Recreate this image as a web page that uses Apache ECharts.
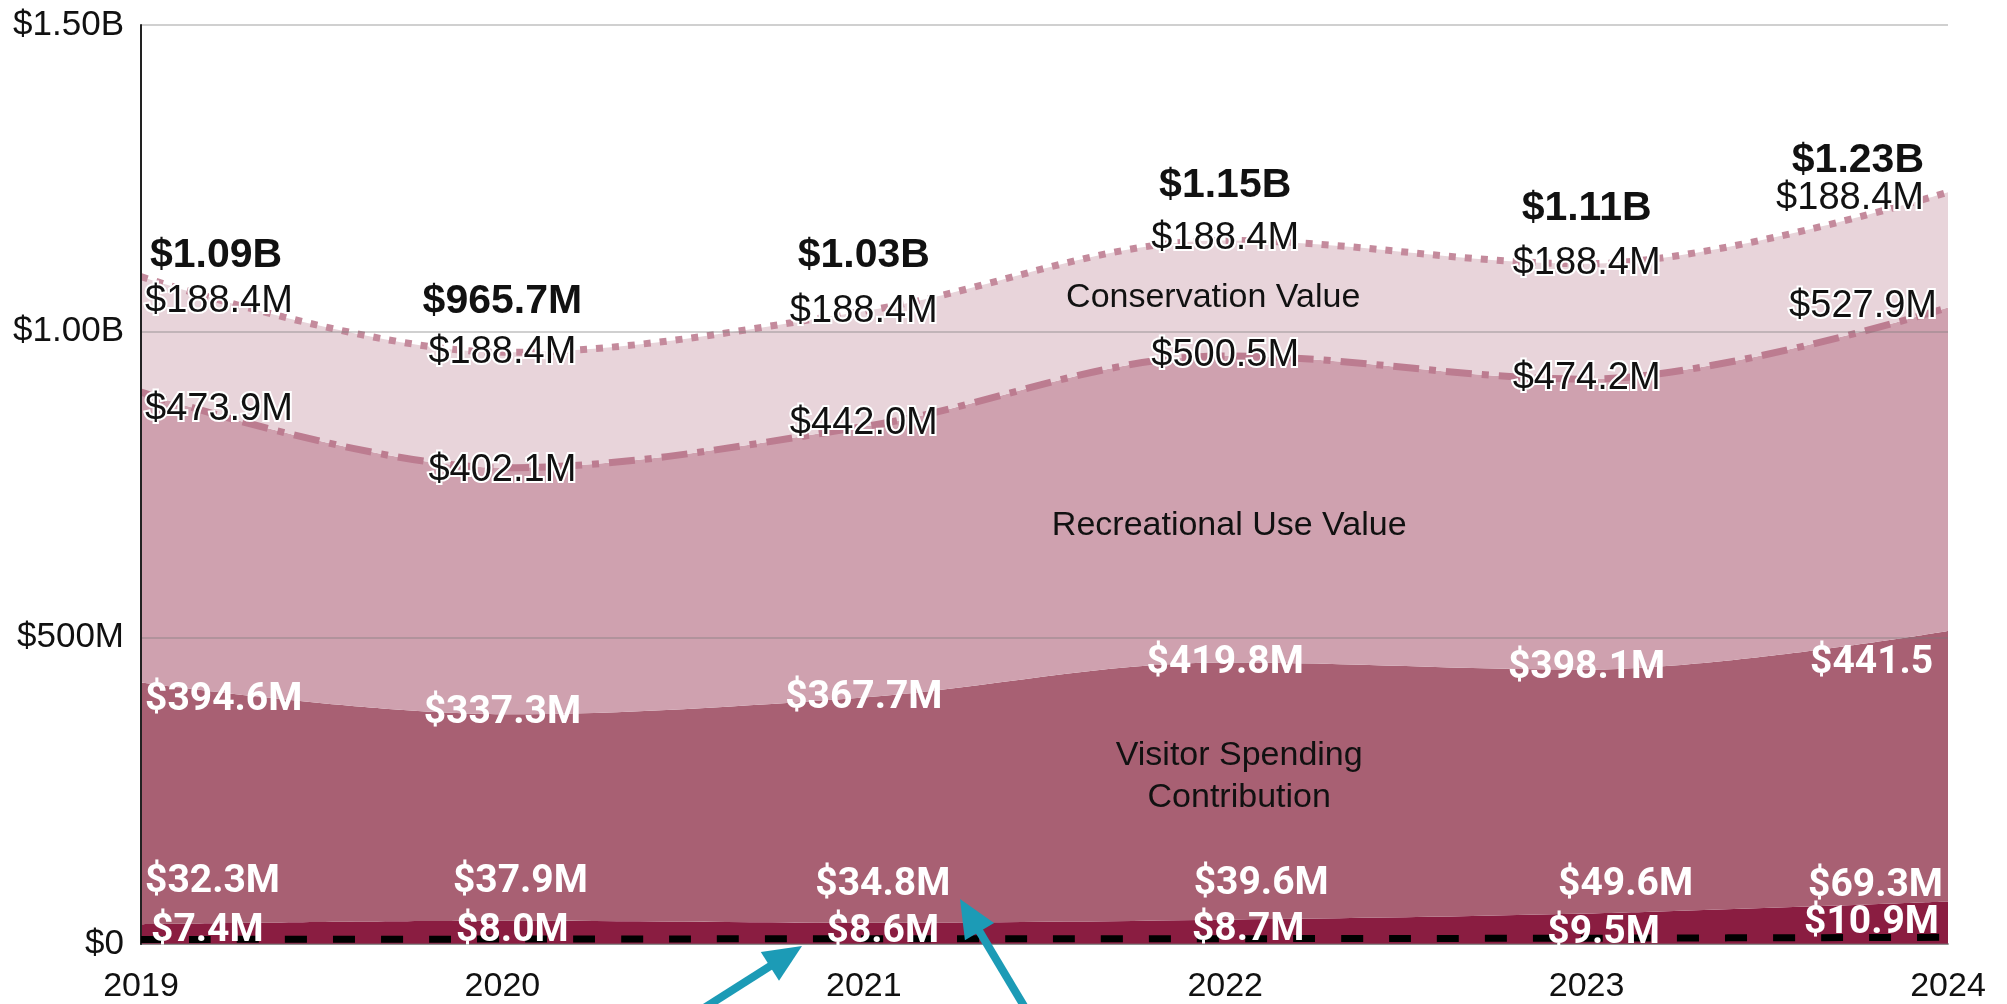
<!DOCTYPE html>
<html>
<head>
<meta charset="utf-8">
<script src="https://cdn.jsdelivr.net/npm/echarts@6/dist/echarts.min.js"></script>
<style>
html,body{margin:0;padding:0;background:#fff;}
#chart{width:2007px;height:1004px;}
</style>
</head>
<body>
<div id="chart"></div>
<script>
// ---- data (values in $M) ----
const years = ['2019', '2020', '2021', '2022', '2023', '2024'];
const dashedBase = [7.4, 8.0, 8.6, 8.7, 9.5, 10.9];
const lowerBand = [32.3, 37.9, 34.8, 39.6, 49.6, 69.3];
const visitorSpending = [394.6, 337.3, 367.7, 419.8, 398.1, 441.5];
const recreationalUse = [473.9, 402.1, 442.0, 500.5, 474.2, 527.9];
const conservationValue = [188.4, 188.4, 188.4, 188.4, 188.4, 188.4];
const yTicks = [0, 500, 1000, 1500];
const yTickLabels = ['$0', '$500M', '$1.00B', '$1.50B'];
const areaNames = ['Conservation Value', 'Recreational Use Value', 'Visitor Spending\nContribution'];

// ---- label layout (pixel offsets, separate from data) ----
const offConservation = [[4, 25], [0, 0], [0, 0], [0, -2], [0, 0], [-24, 6]];
const offTotal = [[9, -21], [0, -51], [0, -55], [0, -55], [0, -55], [-24, -32]];
const offRecreational = [[4, 17], [0, 3], [0, -3], [0, 0], [0, -1], [-11, -1]];
const offVisitor = [[4, 18], [0, -1], [0, 1], [0, 1], [0, -1], [-138, 32]];
const offLower = [[4, -42], [18, -39], [19, -37], [36, -35], [39, -28], [-5, -15]];
const offDashed = [[10, -8], [10, -8], [19, -6], [23, -8], [17, -5], [-9, -14]];

const totals = years.map((_, i) =>
  lowerBand[i] + visitorSpending[i] + recreationalUse[i] + conservationValue[i]);

function fmtM(v) { return '$' + v.toFixed(1) + 'M'; }
function fmtTotal(v) { return v >= 1000 ? '$' + (v / 1000).toFixed(2) + 'B' : '$' + v.toFixed(1) + 'M'; }

const SANS = '"Liberation Sans", Arial, Helvetica, sans-serif';
const BOLDW = 'Roboto, "Liberation Sans", Arial, sans-serif';

function items(values, offs, fmt, extra) {
  const n = values.length;
  return values.map((v, i) => {
    const align = i === 0 ? 'left' : (i === n - 1 ? 'right' : 'center');
    const lab = Object.assign({ offset: offs[i], align: align, formatter: fmt(v) }, extra ? extra(i) : {});
    return { value: v, label: lab };
  });
}

const darkLabel = {
  show: true, position: 'inside', color: '#fff', fontFamily: BOLDW,
  fontWeight: 'bold', fontSize: 39, verticalAlign: 'middle'
};
const blackLabel = {
  show: true, position: 'inside', color: '#111', fontFamily: SANS,
  fontSize: 38, verticalAlign: 'middle', textBorderColor: '#fff', textBorderWidth: 4
};

const common = {
  type: 'line', smooth: 0.35, symbol: 'circle', symbolSize: 0, showSymbol: true,
  clip: false, silent: true
};

function arrow(tail, tip, color) {
  const dx = tip[0] - tail[0], dy = tip[1] - tail[1];
  const len = Math.sqrt(dx * dx + dy * dy);
  const ux = dx / len, uy = dy / len;
  const L = 38, W = 34;
  const bx = tip[0] - ux * L, by = tip[1] - uy * L;
  const nx = -uy, ny = ux;
  return [
    { type: 'line', shape: { x1: tail[0], y1: tail[1], x2: bx + ux * 4, y2: by + uy * 4 },
      style: { stroke: color, lineWidth: 8 }, z: 100 },
    { type: 'polygon', shape: { points: [tip, [bx + nx * W / 2, by + ny * W / 2], [bx - nx * W / 2, by - ny * W / 2]] },
      style: { fill: color }, z: 100 }
  ];
}

const chart = echarts.init(document.getElementById('chart'), null, { renderer: 'canvas' });
chart.setOption({
  animation: false,
  backgroundColor: '#fff',
  grid: { left: 141, right: 59, top: 25, bottom: 59, containLabel: false },
  xAxis: {
    type: 'category', data: years, boundaryGap: false,
    axisLine: { show: true, lineStyle: { color: '#9a9a9a', width: 2 } },
    axisTick: { show: false },
    axisLabel: { color: '#111', fontSize: 34, fontFamily: SANS, margin: 26 },
    splitLine: { show: false }
  },
  yAxis: {
    type: 'value', min: 0, max: 1500, interval: 500, z: 3,
    axisLine: { show: true, lineStyle: { color: '#222', width: 2 } },
    axisTick: { show: false },
    axisLabel: {
      color: '#111', fontSize: 35, fontFamily: SANS, margin: 17,
      formatter: v => yTickLabels[yTicks.indexOf(v)]
    },
    splitLine: { show: true, lineStyle: { color: 'rgba(120,120,120,0.35)', width: 2 } }
  },
  series: [
    Object.assign({}, common, {
      name: 'Lower band', stack: 'total', z: 2,
      lineStyle: { width: 0 }, areaStyle: { color: '#8A1D41', opacity: 1 },
      itemStyle: { color: '#8A1D41' },
      label: darkLabel,
      data: items(lowerBand, offLower, fmtM)
    }),
    Object.assign({}, common, {
      name: 'Visitor Spending Contribution', stack: 'total', z: 2,
      lineStyle: { width: 0 }, areaStyle: { color: '#A86073', opacity: 1 },
      itemStyle: { color: '#A86073' },
      label: darkLabel,
      data: items(visitorSpending, offVisitor, fmtM, i => i === visitorSpending.length - 1
        ? { align: 'left', width: 138, overflow: 'truncate', ellipsis: '' } : {})
    }),
    Object.assign({}, common, {
      name: 'Recreational Use Value', stack: 'total', z: 2,
      lineStyle: { width: 7, color: '#BC7C90', type: [26, 10, 7, 10] },
      areaStyle: { color: '#CFA1AF', opacity: 1 },
      itemStyle: { color: '#BC7C90' },
      label: blackLabel,
      data: items(recreationalUse, offRecreational, fmtM)
    }),
    Object.assign({}, common, {
      name: 'Conservation Value', stack: 'total', z: 2,
      lineStyle: { width: 7, color: '#C48A9C', type: [7, 9] },
      areaStyle: { color: '#E8D4DA', opacity: 1 },
      itemStyle: { color: '#C48A9C' },
      label: blackLabel,
      data: items(conservationValue, offConservation, fmtM)
    }),
    Object.assign({}, common, {
      name: 'Base', z: 3,
      lineStyle: { width: 7, color: '#000', type: [22, 26] },
      itemStyle: { color: '#000' },
      label: Object.assign({}, darkLabel),
      data: items(dashedBase, offDashed, fmtM)
    }),
    Object.assign({}, common, {
      name: 'Total', z: 3,
      lineStyle: { width: 0, opacity: 0 },
      itemStyle: { color: 'rgba(0,0,0,0)' },
      label: {
        show: true, position: 'inside', color: '#111', fontFamily: SANS, fontWeight: 'bold',
        fontSize: 41, verticalAlign: 'middle', textBorderColor: '#fff', textBorderWidth: 3
      },
      data: items(totals, offTotal, fmtTotal),
      markPoint: {
        symbol: 'circle', symbolSize: 0, silent: true,
        label: {
          show: true, position: 'inside', color: '#111', fontFamily: SANS, fontSize: 34,
          lineHeight: 42, align: 'center', verticalAlign: 'middle'
        },
        data: [
          { coord: ['2022', 1055], value: 0, label: { formatter: areaNames[0], offset: [-12, 0] } },
          { coord: ['2022', 683], value: 0, label: { formatter: areaNames[1], offset: [4, 0] } },
          { coord: ['2022', 274], value: 0, label: { formatter: areaNames[2], offset: [14, 0] } }
        ]
      }
    })
  ],
  graphic: [].concat(
    arrow([701, 1010], [802, 946], '#1C9BB6'),
    arrow([1027, 1011], [960, 899], '#1C9BB6')
  )
});
</script>
</body>
</html>
